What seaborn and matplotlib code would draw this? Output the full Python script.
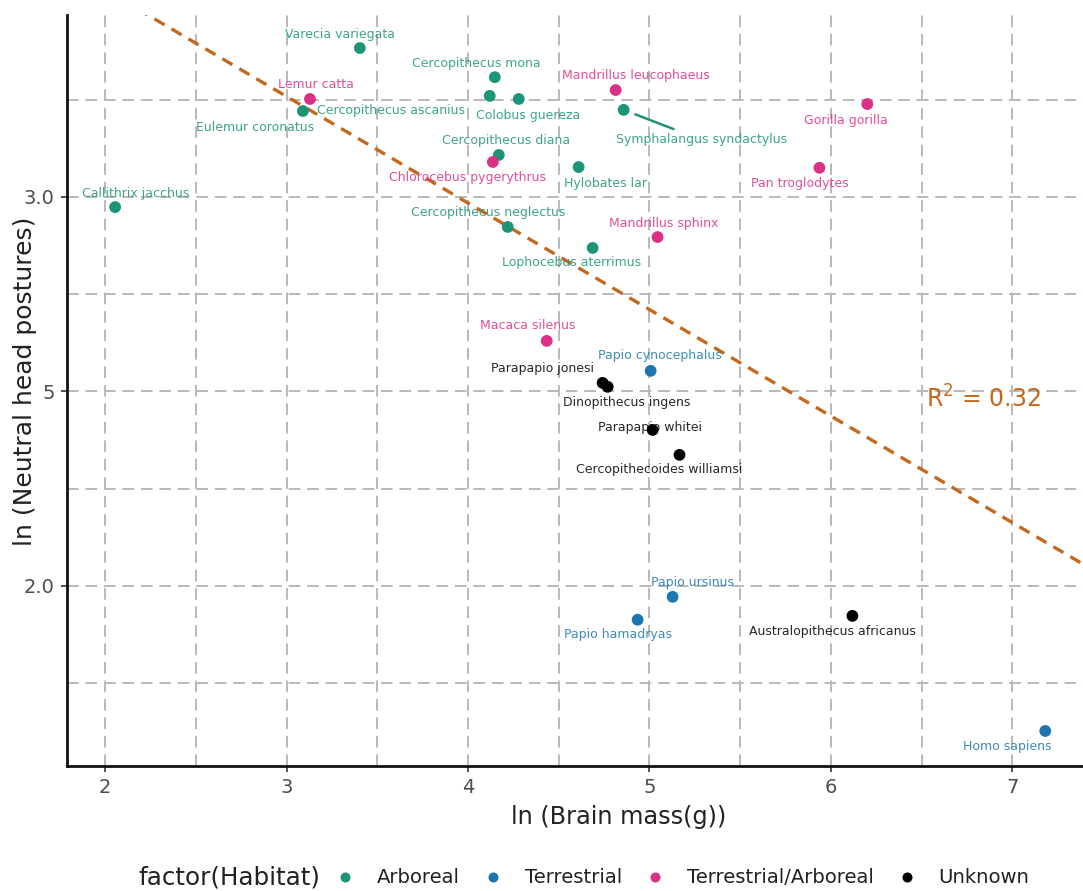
import numpy as np
import pandas as pd
import matplotlib
matplotlib.use("Agg")
import matplotlib.pyplot as plt
import seaborn as sns

# ---- data ----
species = [
    "Varecia variegata", "Cercopithecus mona", "Cercopithecus ascanius", "Colobus guereza",
    "Eulemur coronatus", "Symphalangus syndactylus", "Cercopithecus diana", "Hylobates lar",
    "Callithrix jacchus", "Cercopithecus neglectus", "Lophocebus aterrimus",
    "Lemur catta", "Mandrillus leucophaeus", "Gorilla gorilla", "Chlorocebus pygerythrus",
    "Pan troglodytes", "Mandrillus sphinx", "Macaca silenus",
    "Papio cynocephalus", "Papio ursinus", "Papio hamadryas", "Homo sapiens",
    "Parapapio jonesi", "Dinopithecus ingens", "Parapapio whitei",
    "Cercopithecoides williamsi", "Australopithecus africanus",
]
habitat = (["Arboreal"] * 11 + ["Terrestrial/Arboreal"] * 7 +
           ["Terrestrial"] * 4 + ["Unknown"] * 5)
brain = [3.404, 4.148, 4.120, 4.280, 3.090, 4.858, 4.170, 4.610, 2.055, 4.219, 4.687,
         3.129, 4.814, 6.201, 4.137, 5.937, 5.045, 4.434,
         5.007, 5.128, 4.935, 7.182,
         4.742, 4.770, 5.018, 5.166, 6.119]
posture = [3.383, 3.308, 3.260, 3.252, 3.221, 3.224, 3.108, 3.077, 2.974, 2.923, 2.869,
           3.252, 3.275, 3.239, 3.090, 3.075, 2.897, 2.630,
           2.553, 1.972, 1.913, 1.627,
           2.522, 2.512, 2.401, 2.337, 1.923]
habitat_order = ["Arboreal", "Terrestrial", "Terrestrial/Arboreal", "Unknown"]
x_ticks = [2, 3, 4, 5, 6, 7]
y_ticks = [2.0, 2.5, 3.0]
y_tick_labels = ["2.0", "5", "3.0"]
r2_text = "R$^2$ = 0.32"

# ---- style ----
palette = {"Arboreal": "#1b9477", "Terrestrial": "#1d76ad",
           "Terrestrial/Arboreal": "#dc2f86", "Unknown": "#000000"}
label_offsets = {  # pixels (dx, dy) from point to label centre
    "Varecia variegata": (-20, 14), "Cercopithecus mona": (-19, 14),
    "Cercopithecus ascanius": (-99, -15), "Colobus guereza": (9, -17),
    "Eulemur coronatus": (-48, -16), "Symphalangus syndactylus": (78, -30),
    "Cercopithecus diana": (7, 14), "Hylobates lar": (27, -16),
    "Callithrix jacchus": (21, 14), "Cercopithecus neglectus": (-20, 14),
    "Lophocebus aterrimus": (-21, -15), "Lemur catta": (6, 14),
    "Mandrillus leucophaeus": (20, 15), "Gorilla gorilla": (-21, -16),
    "Chlorocebus pygerythrus": (-25, -16), "Pan troglodytes": (-20, -16),
    "Mandrillus sphinx": (6, 14), "Macaca silenus": (-19, 15),
    "Papio cynocephalus": (9, 15), "Papio ursinus": (20, 14),
    "Papio hamadryas": (-20, -15), "Homo sapiens": (-38, -16),
    "Parapapio jonesi": (-60, 14), "Dinopithecus ingens": (19, -16),
    "Parapapio whitei": (-3, 2), "Cercopithecoides williamsi": (-20, -15),
    "Australopithecus africanus": (-20, -16),
}

df = pd.DataFrame({"species": species, "Habitat": habitat,
                   "brain": brain, "posture": posture})

sns.set_theme(style="white")
plt.rcParams["font.family"] = ["DejaVu Sans"]

fig = plt.figure(figsize=(10.83, 8.91), dpi=100)
ax = fig.add_axes([0.0619, 0.1403, 0.9381, 0.8429])

ax.set_xlim(1.79, 7.39)
ax.set_ylim(1.537, 3.468)

# grid (major + minor), dashed
grid_kw = dict(color="#b9b9b9", lw=1.4, linestyle=(0, (6, 3.5)), zorder=0)
for gx in np.arange(2.0, 7.01, 0.5):
    ax.axvline(gx, **grid_kw)
for gy in np.arange(1.75, 3.26, 0.25):
    ax.axhline(gy, **grid_kw)

# regression line from data
sns.regplot(data=df, x="brain", y="posture", scatter=False, ci=None,
            truncate=False, ax=ax,
            line_kws=dict(color="#c4681e", lw=2.4, linestyle=(0, (3.5, 2.4)), zorder=2))

sns.scatterplot(data=df, x="brain", y="posture", hue="Habitat",
                hue_order=habitat_order, palette=palette, s=72,
                edgecolor="none", ax=ax, zorder=3)

ax.set_xlim(1.79, 7.39)
ax.set_ylim(1.537, 3.468)

for sp, hb, bx, py in zip(species, habitat, brain, posture):
    dx, dy = label_offsets[sp]
    arrow = None
    if sp == "Symphalangus syndactylus":
        arrow = dict(arrowstyle="-", color=palette[hb], lw=1.8,
                     shrinkA=2, shrinkB=9)
    ax.annotate(sp, (bx, py), xytext=(dx, dy), textcoords="offset pixels",
                ha="center", va="center", fontsize=9, color=palette[hb],
                alpha=0.85, arrowprops=arrow, zorder=4)

ax.text(6.84, 2.48, r2_text, ha="center", va="center", fontsize=17,
        color="#c4681e")

ax.set_xticks(x_ticks)
ax.set_xticklabels([str(t) for t in x_ticks])
ax.set_yticks(y_ticks)
ax.set_yticklabels(y_tick_labels)
ax.tick_params(axis="both", labelsize=14, colors="#333333", labelcolor="#4d4d4d",
               length=4, width=1.2, direction="out", bottom=True, left=True, pad=5)

for side in ["top", "right"]:
    ax.spines[side].set_visible(False)
for side in ["left", "bottom"]:
    ax.spines[side].set_color("#111111")
    ax.spines[side].set_linewidth(2.0)

ax.set_xlabel("ln (Brain mass(g))", fontsize=17.3, color="#222222", va="center")
ax.xaxis.set_label_coords(0.543, -0.068)
ax.set_ylabel("ln (Neutral head postures)", fontsize=18, color="#222222", va="center")
ax.yaxis.set_label_coords(-0.0413, 0.5126)

sns.move_legend(ax, "center", bbox_to_anchor=(0.630, 0.0146),
                bbox_transform=fig.transFigure, ncol=4, title=None,
                frameon=False, fontsize=14.1, markerscale=0.85,
                handlelength=1.0, handletextpad=1.13, columnspacing=1.18)
for t in ax.get_legend().get_texts():
    t.set_color("#222222")

fig.text(0.1274, 0.0146, "factor(Habitat)", ha="left", va="center",
         fontsize=17.7, color="#222222")

fig.savefig("out.png", dpi=100)
